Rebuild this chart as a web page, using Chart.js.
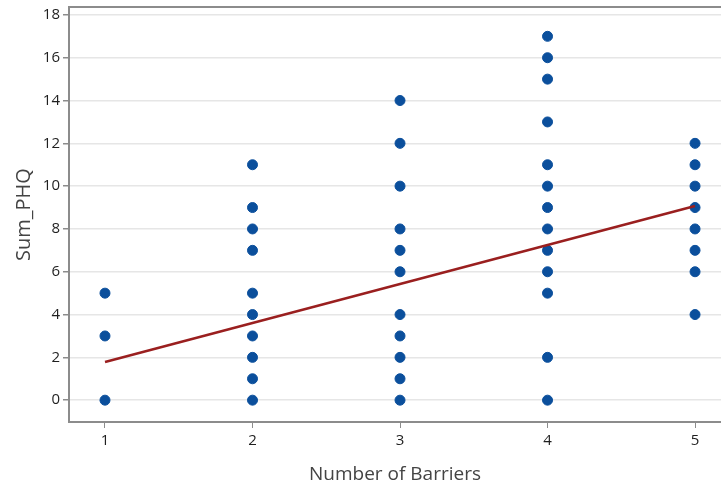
<!DOCTYPE html>
<html>
<head>
<meta charset="utf-8">
<script src="https://cdn.jsdelivr.net/npm/chart.js@4/dist/chart.umd.min.js"></script>
<style>
  html, body { margin: 0; padding: 0; background: #fff; overflow: hidden; }
  #wrap { width: 721px; height: 490px; }
</style>
</head>
<body>
<div id="wrap"><canvas id="chart"></canvas></div>
<script>
// Number of barriers and the Sum_PHQ values seen at each one
const barriers = [1, 2, 3, 4, 5];
const phqAt1 = [5, 3, 0];
const phqAt2 = [11, 9, 8, 7, 5, 4, 3, 2, 1, 0];
const phqAt3 = [14, 12, 10, 8, 7, 6, 4, 3, 2, 1, 0];
const phqAt4 = [17, 16, 15, 13, 11, 10, 9, 8, 7, 6, 5, 2, 0];
const phqAt5 = [12, 11, 10, 9, 8, 7, 6, 4];

// fitted line, read at the two ends
const fitX = [1, 5];
const fitY = [1.78, 9.07];

const yTicks = [0, 2, 4, 6, 8, 10, 12, 14, 16, 18];

const groups = [phqAt1, phqAt2, phqAt3, phqAt4, phqAt5];
const points = [];
groups.forEach((vals, i) => {
    vals.forEach(v => points.push({ x: barriers[i], y: v }));
});

const axisColor = '#8c8c8c';
const tickFont = { family: 'Open Sans', size: 15 };

// draws the frame line along the top of the plot
const topBorder = {
    id: 'topBorder',
    afterDraw(chart) {
        const a = chart.chartArea, ctx = chart.ctx;
        ctx.save();
        ctx.strokeStyle = axisColor;
        ctx.lineWidth = 2;
        ctx.beginPath();
        ctx.moveTo(a.left, a.top);
        ctx.lineTo(a.right, a.top);
        ctx.stroke();
        ctx.restore();
    }
};

new Chart(document.getElementById('chart'), {
    type: 'scatter',
    data: {
        datasets: [{
            label: 'Sum_PHQ',
            data: points,
            backgroundColor: '#0b4f9c',
            borderColor: '#0b4f9c',
            pointRadius: 5,
            pointHoverRadius: 5,
            order: 2
        }, {
            type: 'line',
            label: 'Fit',
            data: fitX.map((x, i) => ({ x: x, y: fitY[i] })),
            borderColor: '#9a1f1f',
            borderWidth: 2.5,
            pointRadius: 0,
            fill: false,
            order: 1
        }]
    },
    options: {
        responsive: true,
        maintainAspectRatio: false,
        animation: false,
        layout: { autoPadding: false, padding: { top: 7, right: 0, left: 0, bottom: 0 } },
        plugins: {
            legend: { display: false },
            tooltip: { enabled: false }
        },
        scales: {
            x: {
                type: 'linear',
                min: 0.756,
                max: 5.176,
                afterBuildTicks(scale) {
                    scale.ticks = barriers.map(v => ({ value: v }));
                },
                afterFit(scale) {
                    scale.height = 68;
                    scale.paddingLeft = 0;
                    scale.paddingRight = 0;
                },
                grid: {
                    drawOnChartArea: false,
                    tickLength: 6,
                    tickColor: axisColor
                },
                border: { color: axisColor, width: 2 },
                ticks: { color: '#1f1f1f', font: tickFont, padding: 4 },
                title: {
                    display: true,
                    text: 'Number of Barriers',
                    color: '#444',
                    font: { family: 'Open Sans', size: 19 },
                    padding: { top: 8 }
                }
            },
            y: {
                min: -1.02,
                max: 18.37,
                afterBuildTicks(scale) {
                    scale.ticks = yTicks.map(v => ({ value: v }));
                },
                afterFit(scale) {
                    scale.width = 69;
                    scale.paddingTop = 0;
                    scale.paddingBottom = 0;
                },
                grid: {
                    color: '#e6e6e6',
                    lineWidth: 1.5,
                    tickLength: 6,
                    tickColor: axisColor
                },
                border: { color: axisColor, width: 2 },
                ticks: { color: '#1f1f1f', font: tickFont, padding: 3 },
                title: {
                    display: true,
                    text: 'Sum_PHQ',
                    color: '#444',
                    font: { family: 'Open Sans', size: 20 },
                    padding: { top: 12 }
                }
            }
        }
    },
    plugins: [topBorder]
});
</script>
</body>
</html>
